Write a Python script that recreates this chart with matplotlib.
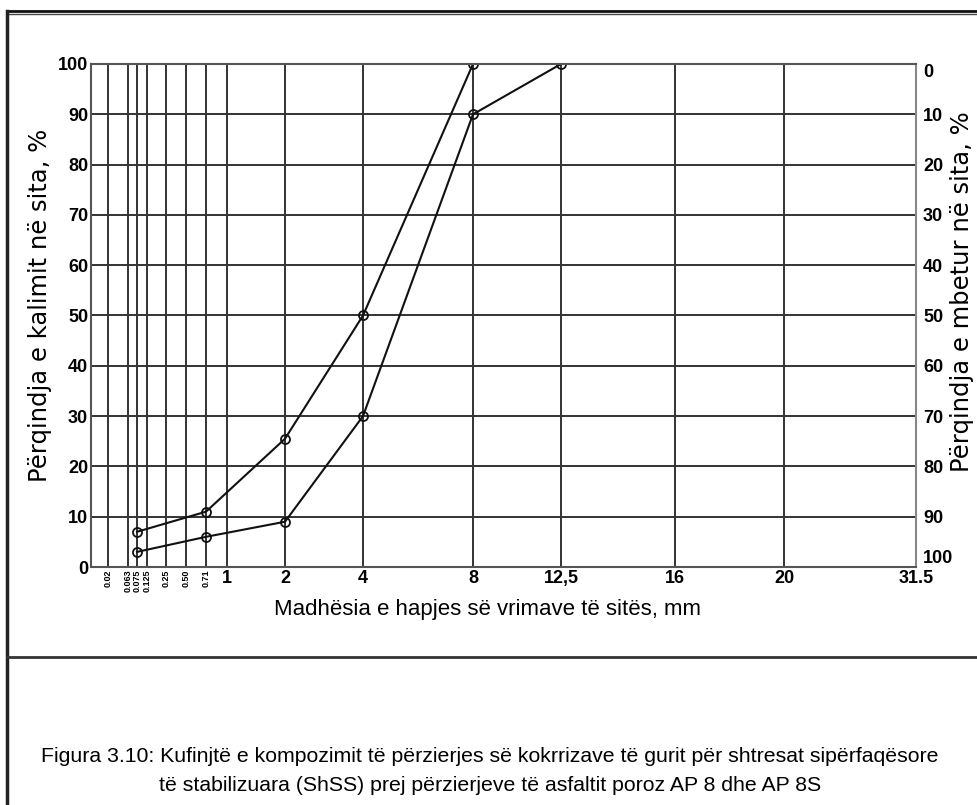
import numpy as np
import matplotlib
matplotlib.use("Agg")
import matplotlib.pyplot as plt
from matplotlib.lines import Line2D

# sieve openings (mm) and their labels
sieve = [0.02, 0.063, 0.075, 0.125, 0.25, 0.50, 0.71, 1, 2, 4, 8, 12.5, 16, 20, 31.5]
sieve_labels = ['0.02', '0.063', '0.075', '0.125', '0.25', '0.50', '0.71',
                '1', '2', '4', '8', '12,5', '16', '20', '31.5']

# grading limits, % passing
upper_x = [0.075, 0.71, 2, 4, 8]
upper_y = [7, 11, 25.5, 50, 100]
lower_x = [0.075, 0.71, 2, 4, 8, 12.5]
lower_y = [3, 6, 9, 30, 90, 100]

# the drawing uses an irregular sieve scale: opening -> distance along the axis
scale_mm = [0, 0.02, 0.063, 0.075, 0.125, 0.25, 0.50, 0.71, 1, 2, 4, 8, 12.5, 16, 20, 31.5]
scale_u = [0, 17, 37, 46, 56, 75, 95, 115, 136, 194, 272, 382, 470, 584, 693, 825]

def fwd(x):
    return np.interp(x, scale_mm, scale_u)

def inv(u):
    return np.interp(u, scale_u, scale_mm)

sans = ['Liberation Sans', 'DejaVu Sans']
W, H = 977, 805
fig = plt.figure(figsize=(W / 100, H / 100), dpi=100)
ax = fig.add_axes([91 / W, 1 - 567 / H, 825 / W, 503 / H])

ax.set_xscale('function', functions=(fwd, inv))
ax.set_xlim(0, 31.5)
ax.set_ylim(0, 100)
ax.set_xticks(sieve)
ax.set_xticklabels(sieve_labels)
ax.set_yticks(range(0, 101, 10))
ax.grid(True, color='#333333', lw=1.4)
ax.tick_params(length=0, pad=2)
for s in ax.spines.values():
    s.set_color('#555555')
    s.set_linewidth(1.5)
ax.spines['right'].set_color('#888888')

for lab in ax.get_xticklabels():
    lab.set_family(sans)
    lab.set_fontweight('bold')
    if lab.get_text().startswith('0.'):
        lab.set_rotation(90)
        lab.set_fontsize(6.5)
    else:
        lab.set_fontsize(13)
for lab in ax.get_yticklabels():
    lab.set_family(sans)
    lab.set_fontsize(13)
    lab.set_fontweight('bold')

ax.plot(upper_x, upper_y, '-o', color='#111111', lw=1.5, ms=6.5, mfc='none', mew=1.3)
ax.plot(lower_x, lower_y, '-o', color='#111111', lw=1.5, ms=6.5, mfc='none', mew=1.3)

ax2 = ax.twinx()
ax2.set_ylim(100, 0)
ax2.set_yticks(range(0, 101, 10))
ax2.tick_params(length=0, pad=5)
for s in ax2.spines.values():
    s.set_visible(False)
rlabs = ax2.get_yticklabels()
for lab in rlabs:
    lab.set_family(sans)
    lab.set_fontsize(13)
    lab.set_fontweight('bold')
rlabs[0].set_va('top')
rlabs[-1].set_va('bottom')

fig.text(40 / W, 1 - 305 / H, 'Përqindja e kalimit në sita, %', rotation=90,
         ha='center', va='center', fontsize=17.5, family='DejaVu Sans')
fig.text(962 / W, 1 - 292 / H, 'Përqindja e mbetur në sita, %', rotation=90,
         ha='center', va='center', fontsize=17.5, family='DejaVu Sans')
fig.text(488 / W, 1 - 609 / H, 'Madhësia e hapjes së vrimave të sitës, mm',
         ha='center', va='center', fontsize=16, family=sans)
fig.text(490 / W, 1 - 756 / H,
         'Figura 3.10: Kufinjtë e kompozimit të përzierjes së kokrrizave të gurit për shtresat sipërfaqësore',
         ha='center', va='center', fontsize=15.3, family=sans)
fig.text(490 / W, 1 - 785 / H,
         'të stabilizuara (ShSS) prej përzierjeve të asfaltit poroz AP 8 dhe AP 8S',
         ha='center', va='center', fontsize=15.3, family=sans)

# frame around the figure
def fline(x0, y0, x1, y1, lw, c):
    fig.add_artist(Line2D([x0 / W, x1 / W], [1 - y0 / H, 1 - y1 / H], lw=lw, color=c))

fline(7, 11, W, 11, 2, '#111111')
fline(7, 14, W, 14, 1, '#444444')
fline(7, 11, 7, H, 2.5, '#222222')
fline(7, 657, W, 657, 2, '#333333')

fig.savefig('out.png', dpi=100)
